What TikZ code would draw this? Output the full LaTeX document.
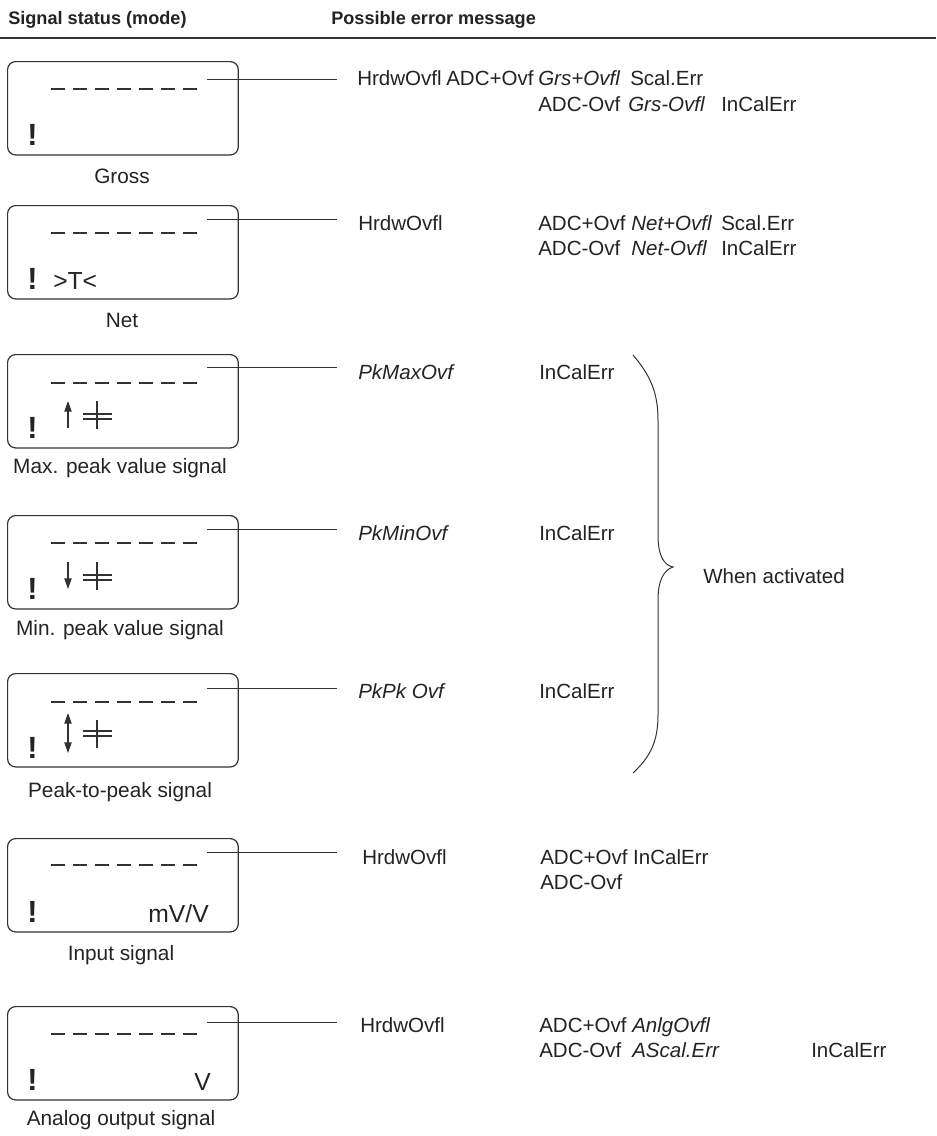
\documentclass[tikz,border=0pt]{standalone}
\usepackage{fontspec}
\setmainfont{Liberation Sans}
\usetikzlibrary{arrows.meta, positioning}
\definecolor{dispgray}{RGB}{50, 50, 50}
\definecolor{inkgray}{RGB}{35, 35, 35}

\begin{document}
\begin{tikzpicture}[
    x=0.75pt, y=-0.75pt,
    display/.style={draw=dispgray, line width=0.9pt, rounded corners=6pt,
                    minimum width=173pt, minimum height=70pt,
                    inner sep=0pt, anchor=north west},
    digits/.style={draw=dispgray, line width=1.8pt,
                   dash pattern=on 10.5pt off 6pt},
    lead/.style={draw=dispgray, line width=0.75pt},
    mode/.style={font=\fontsize{15.6}{18}\selectfont, text=inkgray,
                 anchor=base, inner sep=0pt},
    err/.style={font=\fontsize{15.4}{18}\selectfont, text=inkgray,
                anchor=base west, inner sep=0pt},
    erri/.style={err, font=\fontsize{15.4}{18}\selectfont\itshape},
    bang/.style={font=\bfseries\fontsize{23}{26}\selectfont, text=inkgray,
                 anchor=base west, inner sep=0pt},
    unit/.style={font=\fontsize{18.5}{21}\selectfont, text=inkgray,
                 anchor=base east, inner sep=0pt},
    hdr/.style={font=\bfseries\fontsize{13.6}{16}\selectfont, text=inkgray,
                anchor=base west, inner sep=0pt},
    peak/.style={draw=dispgray, line width=0.8pt},
    ptip/.style={-{Triangle[width=5.5pt, length=8pt]}},
    ptip2/.style={{Triangle[width=5.5pt, length=8pt]}-{Triangle[width=5.5pt, length=8pt]}},
  ]
    \useasboundingbox (0,0) rectangle (936,1136);

    % Column heads
    \node[hdr] (h-mode) at (8,24)   {Signal status (mode)};
    \node[hdr] (h-err)  at (331,24) {Possible error message};
    \coordinate (rule-l) at (0,38);
    \coordinate (rule-r) at (936,38);
    \draw[draw=dispgray, line width=1pt] (rule-l) -- (rule-r);

    % Displays, one per signal status
    \node[display] (gross)  at (7,61)   {};
    \node[display] (net)    at (7,205)  {};
    \node[display] (pkmax)  at (7,354)  {};
    \node[display] (pkmin)  at (7,515)  {};
    \node[display] (pkpk)   at (7,673)  {};
    \node[display] (input)  at (7,838)  {};
    \node[display] (analog) at (7,1006) {};

    % Seven-digit dash rows
    \draw[digits] (51,89)   -- (198,89);
    \draw[digits] (51,233)  -- (198,233);
    \draw[digits] (51,383)  -- (198,383);
    \draw[digits] (51,543)  -- (198,543);
    \draw[digits] (51,702)  -- (198,702);
    \draw[digits] (51,865)  -- (198,865);
    \draw[digits] (51,1034) -- (198,1034);

    % Status marks
    \node[bang] (gross-x)  at (27,145)  {!};
    \node[bang] (net-x)    at (27,289)  {!};
    \node[bang] (pkmax-x)  at (27,438)  {!};
    \node[bang] (pkmin-x)  at (27,599)  {!};
    \node[bang] (pkpk-x)   at (27,758)  {!};
    \node[bang] (input-x)  at (27,922)  {!};
    \node[bang] (analog-x) at (27,1090) {!};
    \node[unit, anchor=base west] (net-t) at (53,289) {>T<};
    \node[unit] (input-u)  at (209,922)  {mV/V};
    \node[unit] (analog-u) at (211,1090) {V};

    % Peak and hold symbols
    \draw[peak, ptip] (68,428) -- (68,401);
    \draw[peak] (83,414) -- (112,414) (83,419) -- (112,419) (97,401) -- (97,429);
    \draw[peak, ptip] (68,562) -- (68,589);
    \draw[peak] (83,575) -- (112,575) (83,580) -- (112,580) (97,562) -- (97,590);
    \draw[peak, ptip2] (68,713) -- (68,753);
    \draw[peak] (83,731) -- (112,731) (83,736) -- (112,736) (97,720) -- (97,748);

    % Mode names
    \node[mode] (gross-n)  at (122,183)  {Gross};
    \node[mode] (net-n)    at (122,327)  {Net};
    \node[mode] (pkmax-n)  at (120,473)  {Max. peak value signal};
    \node[mode] (pkmin-n)  at (120,635)  {Min. peak value signal};
    \node[mode] (pkpk-n)   at (120,797)  {Peak-to-peak signal};
    \node[mode] (input-n)  at (121,960)  {Input signal};
    \node[mode] (analog-n) at (121,1125) {Analog output signal};

    % Leader lines
    \coordinate (gross-a)  at (207,79);   \coordinate (gross-b)  at (337,79);
    \coordinate (net-a)    at (207,219);  \coordinate (net-b)    at (337,219);
    \coordinate (pkmax-a)  at (207,367);  \coordinate (pkmax-b)  at (337,367);
    \coordinate (pkmin-a)  at (207,529);  \coordinate (pkmin-b)  at (337,529);
    \coordinate (pkpk-a)   at (207,688);  \coordinate (pkpk-b)   at (337,688);
    \coordinate (input-a)  at (207,852);  \coordinate (input-b)  at (337,852);
    \coordinate (analog-a) at (207,1022); \coordinate (analog-b) at (337,1022);
    \draw[lead] (gross-a) -- (gross-b);
    \draw[lead] (net-a) -- (net-b);
    \draw[lead] (pkmax-a) -- (pkmax-b);
    \draw[lead] (pkmin-a) -- (pkmin-b);
    \draw[lead] (pkpk-a) -- (pkpk-b);
    \draw[lead] (input-a) -- (input-b);
    \draw[lead] (analog-a) -- (analog-b);

    % Error messages: gross
    \node[err]  (g1) at (357,85)  {HrdwOvfl};
    \node[err]  (g2) at (446,85)  {ADC+Ovf};
    \node[erri] (g3) at (538,85)  {Grs+Ovfl};
    \node[err]  (g4) at (630,85)  {Scal.Err};
    \node[err]  (g5) at (538,111) {ADC-Ovf};
    \node[erri] (g6) at (628,111) {Grs-Ovfl};
    \node[err]  (g7) at (721,111) {InCalErr};

    % Error messages: net
    \node[err]  (n1) at (358,230) {HrdwOvfl};
    \node[err]  (n2) at (538,230) {ADC+Ovf};
    \node[erri] (n3) at (631,230) {Net+Ovfl};
    \node[err]  (n4) at (721,230) {Scal.Err};
    \node[err]  (n5) at (538,255) {ADC-Ovf};
    \node[erri] (n6) at (631,255) {Net-Ovfl};
    \node[err]  (n7) at (721,255) {InCalErr};

    % Error messages: peak values
    \node[erri] (x1) at (358,379) {PkMaxOvf};
    \node[err]  (x2) at (539,379) {InCalErr};
    \node[erri] (m1) at (358,540) {PkMinOvf};
    \node[err]  (m2) at (539,540) {InCalErr};
    \node[erri] (p1) at (358,698) {PkPk Ovf};
    \node[err]  (p2) at (539,698) {InCalErr};

    % Error messages: input and analog output
    \node[err]  (i1) at (362,864)  {HrdwOvfl};
    \node[err]  (i2) at (540,864)  {ADC+Ovf InCalErr};
    \node[err]  (i4) at (540,889)  {ADC-Ovf};
    \node[err]  (a1) at (360,1032) {HrdwOvfl};
    \node[err]  (a2) at (539,1032) {ADC+Ovf \textit{AnlgOvfl}};
    \node[err]  (a4) at (539,1057) {ADC-Ovf};
    \node[erri] (a5) at (632,1057) {AScal.Err};
    \node[err]  (a6) at (811,1057) {InCalErr};

    % Brace for the peak functions
    \draw[draw=dispgray, line width=0.75pt]
      (633,355) .. controls (650,375) and (658,392) .. (658,420)
      -- (658,535) .. controls (658,556) and (664,565) .. (673,567)
      .. controls (664,570) and (658,580) .. (658,600)
      -- (658,715) .. controls (658,742) and (650,757) .. (633,773);
    \node[err] (activ) at (703,583) {When activated};
  \end{tikzpicture}
\end{document}
